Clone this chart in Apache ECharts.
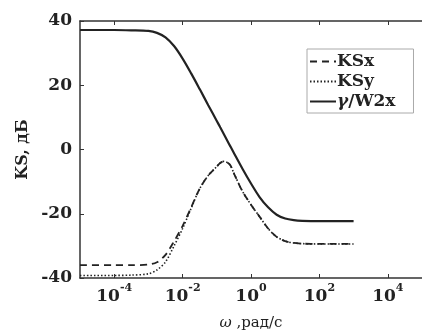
<!DOCTYPE html>
<html>
<head>
<meta charset="utf-8">
<script src="https://cdn.jsdelivr.net/npm/echarts@6/dist/echarts.min.js"></script>
<style>
  html, body { margin: 0; padding: 0; background: #fff; }
  #chart { width: 422px; height: 336px; }
</style>
</head>
<body>
<div id="chart"></div>
<script>
// Frequency points as decimal exponents: omega = 10^omegaExp (rad/s)
const omegaExp = [-5, -4, -3.5, -3, -2.75, -2.5, -2.25, -2, -1.75, -1.5, -1.25, -1, -0.9, -0.8,
                  -0.7, -0.6, -0.5, -0.25, 0, 0.25, 0.5, 0.75, 1, 1.25, 1.5, 2, 3];

// Magnitudes, dB
const ksx = [-36, -36, -36, -35.8, -35.1, -32.8, -28.6, -23.8, -18.0, -12.2, -8.1, -5.3, -4.2, -3.7,
             -4.0, -5.0, -7.4, -13.0, -17.2, -20.9, -24.6, -27.2, -28.5, -29.1, -29.3, -29.4, -29.4];
const ksy = [-39.2, -39.2, -39.1, -38.7, -37.5, -35.0, -30.0, -24.6, -18.3, -12.2, -8.1, -5.3, -4.2, -3.7,
             -4.0, -5.0, -7.4, -13.0, -17.2, -20.9, -24.6, -27.2, -28.5, -29.1, -29.3, -29.4, -29.4];
const gammaW2x = [37.2, 37.2, 37.1, 36.9, 36.3, 34.9, 32.2, 28.3, 23.7, 18.8, 13.8, 8.9, 6.9, 4.9,
                  2.9, 0.9, -1.1, -6.0, -10.6, -14.8, -18.0, -20.3, -21.5, -22.0, -22.2, -22.3, -22.3];

// Tick positions
const xTickExp = [-4, -2, 0, 2, 4];

const FONT = '"DejaVu Serif", "Liberation Serif", serif';
const INK = '#222';

function pairs(vals) {
  return omegaExp.map((e, i) => [e, vals[i]]);
}

const axisLineStyle = { color: '#333', width: 1.5 };
const clear = 'rgba(0,0,0,0)';

const chart = echarts.init(document.getElementById('chart'), null, { renderer: 'canvas' });

chart.setOption({
  backgroundColor: '#fff',
  animation: false,
  grid: { left: 80, top: 21, width: 350, height: 262, containLabel: false },
  legend: {
    orient: 'vertical',
    left: 307,
    top: 49,
    itemWidth: 26,
    itemHeight: 10,
    itemGap: 1,
    padding: [3, 18, 2, 2],
    borderColor: '#aaa',
    borderWidth: 1,
    backgroundColor: '#fff',
    itemStyle: { color: clear, borderColor: clear, borderWidth: 0, opacity: 0 },
    textStyle: {
      fontFamily: FONT, fontSize: 17, fontWeight: 'bold', color: INK, lineHeight: 19, padding: [0, 0, 0, -4],
      rich: { i: { fontFamily: FONT, fontSize: 17, fontWeight: 'bold', fontStyle: 'italic', color: INK, lineHeight: 19 } }
    },
    formatter: n => n === 'gW' ? '{i|γ}/W2x' : n,
    data: ['KSx', 'KSy', 'gW']
  },
  xAxis: [{
    type: 'value',
    position: 'bottom',
    min: -5, max: 5,
    axisLine: { onZero: false, lineStyle: axisLineStyle },
    axisTick: { inside: true, length: 4, customValues: xTickExp, lineStyle: { color: '#333' } },
    splitLine: { show: false },
    axisLabel: {
      customValues: xTickExp,
      margin: 5,
      formatter: v => '{b|10}{e|' + v + '}',
      rich: {
        b: { fontFamily: FONT, fontSize: 17, fontWeight: 'bold', color: INK, lineHeight: 22, verticalAlign: 'bottom' },
        e: { fontFamily: FONT, fontSize: 11, fontWeight: 'bold', color: INK, lineHeight: 22, verticalAlign: 'top' }
      }
    },
    name: '{w|ω} ,рад/с',
    nameLocation: 'middle',
    nameGap: 38,
    nameTextStyle: {
      fontFamily: FONT, fontSize: 15, color: INK,
      rich: { w: { fontFamily: FONT, fontSize: 15, fontStyle: 'italic', color: INK } }
    }
  }, {
    type: 'value',
    position: 'top',
    min: -5, max: 5,
    axisLine: { onZero: false, lineStyle: axisLineStyle },
    axisTick: { inside: true, length: 4, customValues: xTickExp, lineStyle: { color: '#333' } },
    axisLabel: { show: false },
    splitLine: { show: false }
  }],
  yAxis: {
    type: 'value',
    min: -40, max: 40, interval: 20,
    axisLine: { show: true, onZero: false, lineStyle: axisLineStyle },
    axisTick: { show: true, inside: true, length: 4, lineStyle: { color: '#333' } },
    splitLine: { show: false },
    axisLabel: { fontFamily: FONT, fontSize: 17, fontWeight: 'bold', color: INK, margin: 8 },
    name: 'KS, дБ',
    nameLocation: 'middle',
    nameGap: 47,
    nameTextStyle: { fontFamily: FONT, fontSize: 16, fontWeight: 'bold', color: INK }
  },
  series: [{
    name: 'KSx',
    type: 'line',
    smooth: 0.3,
    symbol: 'none',
    data: pairs(ksx),
    lineStyle: { color: INK, width: 1.8, type: [7, 5] },
    itemStyle: { color: INK },
    z: 3
  }, {
    name: 'KSy',
    type: 'line',
    smooth: 0.3,
    symbol: 'none',
    data: pairs(ksy),
    lineStyle: { color: INK, width: 1.6, type: [1.5, 2] },
    itemStyle: { color: INK },
    z: 2
  }, {
    name: 'gW',
    type: 'line',
    smooth: 0.3,
    symbol: 'none',
    data: pairs(gammaW2x),
    lineStyle: { color: INK, width: 2.2, type: 'solid' },
    itemStyle: { color: INK },
    z: 4
  }]
});
</script>
</body>
</html>
